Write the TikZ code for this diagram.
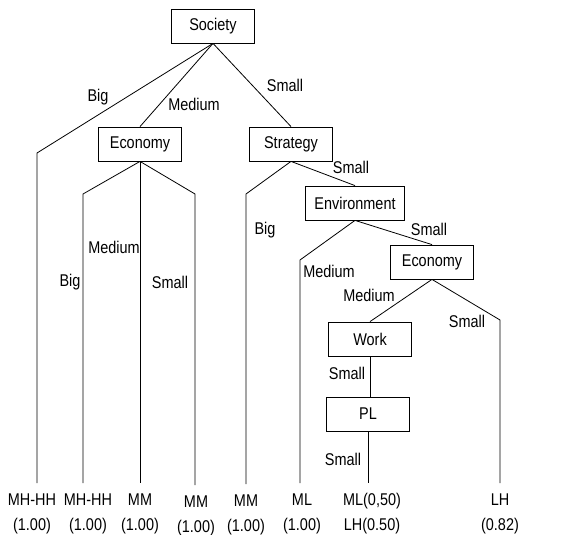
\documentclass[tikz,border=0pt]{standalone}
\usepackage{fontspec}
\setmainfont[FakeStretch=0.85]{Liberation Sans}

\begin{document}
\begin{tikzpicture}[x=1pt,y=-1pt,line width=0.8pt,
    box/.style={draw, minimum width=83pt, minimum height=34pt, inner xsep=9pt,
      font=\fontsize{17}{20}\selectfont},
    lbl/.style={inner sep=0pt, font=\fontsize{17}{20}\selectfont},
    leaf/.style={anchor=north, align=center, inner xsep=0pt, inner ysep=10pt,
      font=\fontsize{17}{25}\selectfont}]
    \useasboundingbox (0,0) rectangle (579,535);

    % Decision nodes
    \node[box] (soc) at (213,26) {Society};
    \node[box] (eco) at (140,144) {Economy};
    \node[box] (str) at (291,144) {Strategy};
    \node[box] (env) at (355,203) {Environment};
    \node[box] (ecb) at (432,262) {Economy};
    \node[box] (wrk) at (370,339) {Work};
    \node[box] (pl) at (368,414) {PL};

    % Bends
    \coordinate (b1) at (37,153);
    \coordinate (e1) at (83,194);
    \coordinate (e3) at (195,194);
    \coordinate (s1) at (246,194);
    \coordinate (v1) at (300,260);
    \coordinate (c2) at (500,320);

    % Leaves
    \node[leaf] (l1) at (32,483) {MH-HH\\(1.00)};
    \node[leaf] (l2) at (88,483) {MH-HH\\(1.00)};
    \node[leaf] (l3) at (140,483) {MM\\(1.00)};
    \node[leaf] (l4) at (196,485) {MM\\(1.00)};
    \node[leaf] (l5) at (246,484) {MM\\(1.00)};
    \node[leaf] (l6) at (302,483) {ML\\(1.00)};
    \node[leaf] (l7) at (372,483) {ML(0,50)\\LH(0.50)};
    \node[leaf] (l8) at (500,483) {LH\\(0.82)};

    % Edges
    \draw (soc.south) -- (b1) -- (b1 |- l1.north);
    \draw (soc.south) -- (eco.north);
    \draw (soc.south) -- (str.north);
    \draw (eco.south) -- (e1) -- (e1 |- l2.north);
    \draw (eco.south) -- (eco.south |- l3.north);
    \draw (eco.south) -- (e3) -- (e3 |- l4.north);
    \draw (str.south) -- (s1) -- (s1 |- l5.north);
    \draw (str.south) -- (env.north);
    \draw (env.south) -- (v1) -- (v1 |- l6.north);
    \draw (env.south) -- (ecb.north);
    \draw (ecb.south) -- (wrk.north);
    \draw (ecb.south) -- (c2) -- (c2 |- l8.north);
    \draw (wrk.south) -- (wrk.south |- pl.north);
    \draw (pl.south) -- (pl.south |- l7.north);

    % Edge labels
    \node[lbl] (t1) at (98,97) {Big};
    \node[lbl] (t2) at (194,104) {Medium};
    \node[lbl] (t3) at (285,85) {Small};
    \node[lbl] (t4) at (70,282) {Big};
    \node[lbl] (t5) at (114,247) {Medium};
    \node[lbl] (t6) at (170,282) {Small};
    \node[lbl] (t7) at (265,230) {Big};
    \node[lbl] (t8) at (351,167) {Small};
    \node[lbl] (t9) at (329,271) {Medium};
    \node[lbl] (t10) at (429,229) {Small};
    \node[lbl] (t11) at (369,295) {Medium};
    \node[lbl] (t12) at (467,321) {Small};
    \node[lbl] (t13) at (347,373) {Small};
    \node[lbl] (t14) at (343,459) {Small};
\end{tikzpicture}
\end{document}
